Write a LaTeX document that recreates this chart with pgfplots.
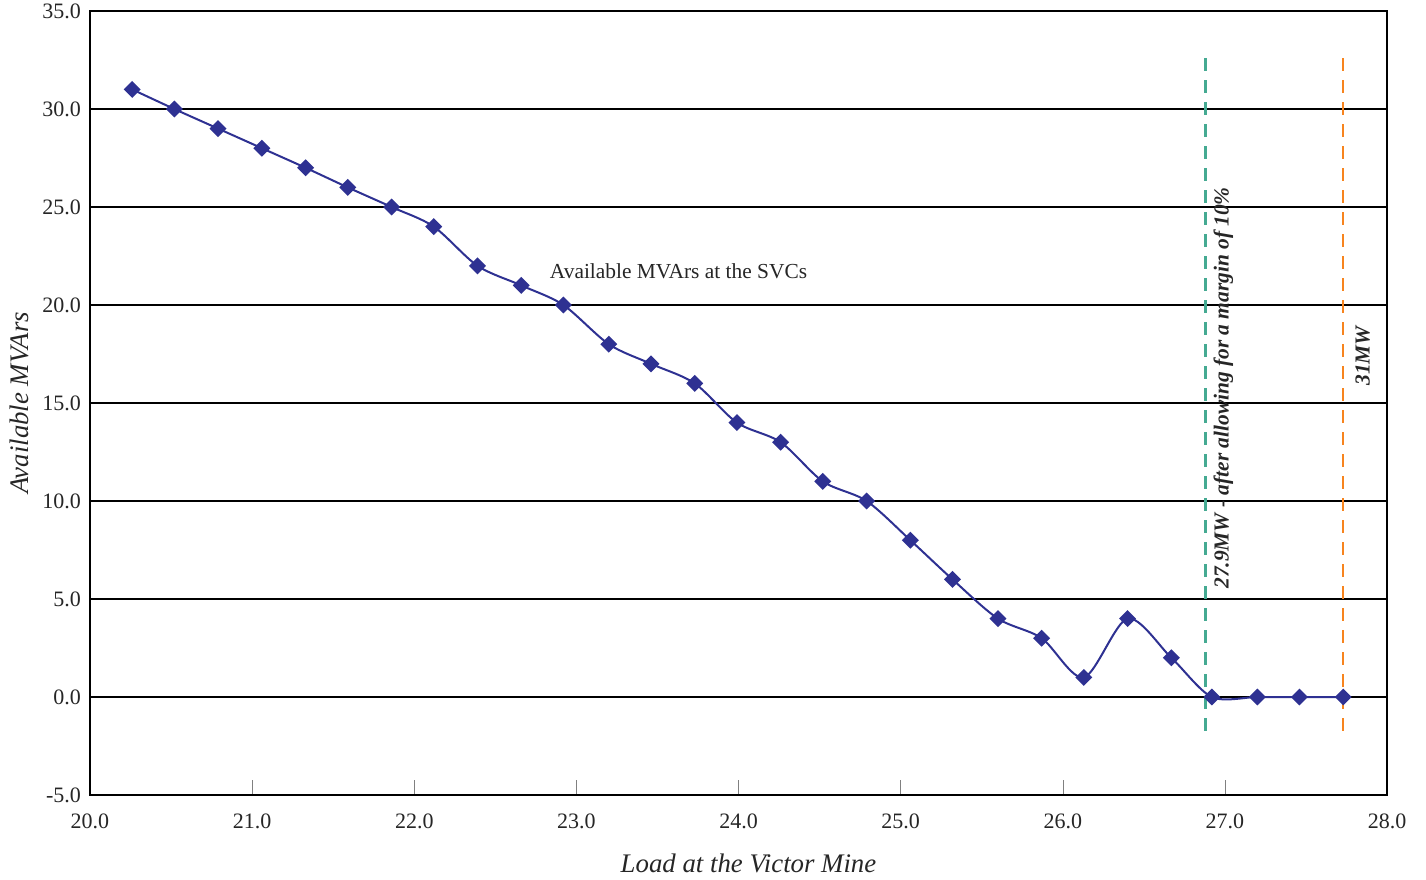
\documentclass[border=0pt]{standalone}
\usepackage{fontspec}
\setmainfont{Liberation Serif}
\usepackage{pgfplots}
\pgfplotsset{compat=1.18}
\definecolor{lineblue}{HTML}{2E3192}
\definecolor{teal}{HTML}{45AA92}
\definecolor{orng}{HTML}{F7841E}
\begin{document}
\begin{tikzpicture}
\begin{axis}[
  scale only axis,
  width=648.5pt, height=392pt,
  xmin=20, xmax=28, ymin=-5, ymax=35,
  xtick={20,21,...,28}, ytick={-5,0,...,35},
  /pgf/number format/.cd, fixed, fixed zerofill, precision=1, assume math mode=true,
  /pgfplots/.cd,
  tick label style={font=\fontsize{11}{13}\selectfont, text=black!85},
  xtick pos=bottom, ytick pos=left,
  xtick align=inside,
  major tick length=7.5pt,
  ytick style={draw=none},
  xticklabel style={yshift=-6pt},
  yticklabel style={xshift=-1pt},
  ymajorgrids,
  grid style={black, line width=1pt},
  axis line style={black, line width=1.1pt},
  xlabel={\textit{Load at the Victor Mine}},
  ylabel={\textit{Available MVArs}},
  label style={font=\fontsize{13.4}{15}\selectfont, text=black!85},
  xlabel style={at={(axis description cs:0.5,0)}, anchor=north, yshift=-26pt, xshift=5pt},
  ylabel style={at={(axis description cs:0,0.5)}, anchor=south, yshift=27pt},
  clip=false,
]
\addplot[lineblue, line width=1pt, smooth, mark=square*, mark size=2.5pt, mark options={rotate=45, fill=lineblue, solid}] coordinates {
(20.26,31) (20.52,30) (20.79,29) (21.06,28) (21.33,27) (21.59,26) (21.86,25)
(22.12,24) (22.39,22) (22.66,21) (22.92,20) (23.20,18) (23.46,17) (23.73,16)
(23.99,14) (24.26,13) (24.52,11) (24.79,10) (25.06,8) (25.32,6) (25.60,4)
(25.87,3) (26.13,1) (26.40,4) (26.67,2) (26.92,0) (27.20,0) (27.46,0) (27.73,0)
};
\addplot[teal, line width=1.2pt, dash pattern=on 6.5pt off 4.5pt] coordinates {(26.88,32.6) (26.88,-1.85)};
\addplot[orng, line width=1.2pt, dash pattern=on 6.5pt off 4.5pt] coordinates {(27.73,32.6) (27.73,-1.85)};
\node[font=\fontsize{10.7}{13}\selectfont, text=black!85] at (axis cs:23.63,21.73) {Available MVArs at the SVCs};
\node[rotate=90, font=\fontsize{10.7}{13}\selectfont\bfseries\itshape, text=black!85] at (axis cs:26.99,15.77) {27.9MW - after allowing for a margin of 10\%};
\node[rotate=90, font=\fontsize{10.7}{13}\selectfont\bfseries\itshape, text=black!85] at (axis cs:27.85,17.4) {31MW};
\end{axis}
\path (current axis.south west) ++(-45pt,-42pt) coordinate (bl);
\path (current axis.north east) ++(19.5pt,5.5pt) coordinate (tr);
\pgfresetboundingbox
\path[use as bounding box] (bl) rectangle (tr);
\end{tikzpicture}
\end{document}
